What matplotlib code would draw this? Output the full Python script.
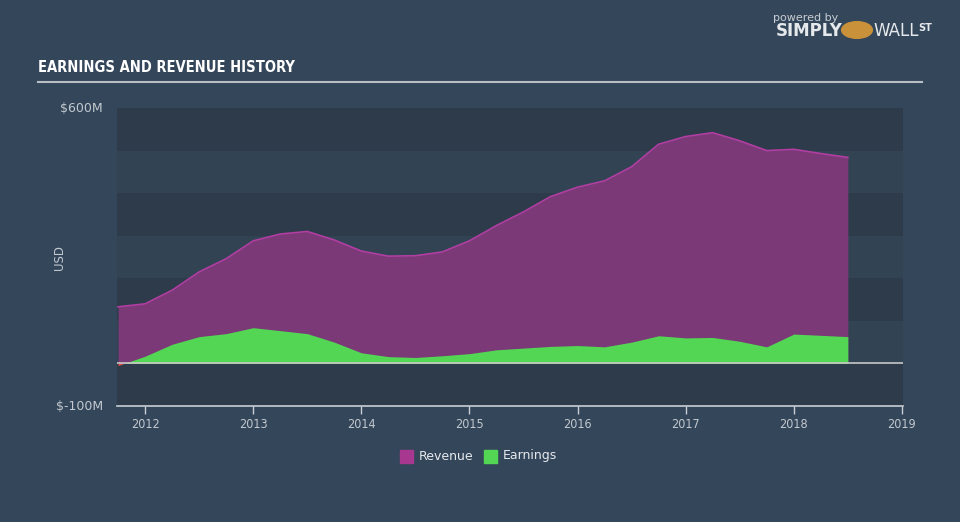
import numpy as np
import matplotlib
matplotlib.use("Agg")
import matplotlib.pyplot as plt
from matplotlib.patches import Rectangle

# Data (quarterly), values in $M
years = [2011.75, 2012.0, 2012.25, 2012.5, 2012.75, 2013.0, 2013.25, 2013.5, 2013.75,
         2014.0, 2014.25, 2014.5, 2014.75, 2015.0, 2015.25, 2015.5, 2015.75,
         2016.0, 2016.25, 2016.5, 2016.75, 2017.0, 2017.25, 2017.5, 2017.75,
         2018.0, 2018.25, 2018.5]
revenue = [133, 140, 172, 215, 246, 288, 304, 310, 290,
           264, 252, 253, 262, 288, 324, 356, 392,
           414, 429, 462, 515, 533, 542, 523, 500,
           503, 493, 484]
earnings = [-5, 17, 45, 63, 70, 84, 77, 70, 50,
            25, 16, 14, 18, 23, 32, 36, 40,
            42, 39, 50, 65, 60, 61, 52, 39,
            69, 66, 63]
xticks = [2012, 2013, 2014, 2015, 2016, 2017, 2018, 2019]

years = np.array(years)
revenue = np.array(revenue)
earnings = np.array(earnings)

bg = '#34465a'
plot_bg = '#324354'
band = '#2d3b4a'
purple_fill = '#7b3977'
purple_line = '#b23ea3'
green = '#53d653'
grey_txt = '#c3c9cf'

fig = plt.figure(figsize=(9.6, 5.22), dpi=100)
fig.patch.set_facecolor(bg)
ax = fig.add_axes([117/960, 1-406/522, 786/960, 298/522])
ax.set_facecolor(plot_bg)

ax.set_xlim(2011.74, 2019.01)
ax.set_ylim(-100, 600)

# alternating horizontal bands
for lo in [-100, 100, 300, 500]:
    ax.axhspan(lo, lo + 100, color=band, zorder=0, lw=0)

ax.fill_between(years, 0, revenue, color=purple_fill, zorder=2, lw=0)
ax.plot(years, revenue, color=purple_line, lw=1.2, zorder=3)
ax.fill_between(years, 0, earnings, where=earnings >= 0, interpolate=True,
                color=green, zorder=4, lw=0)
ax.fill_between(years, 0, earnings, where=earnings < 0, interpolate=True,
                color='#e8523f', zorder=4, lw=0)
ax.axhline(0, color='#c8c8c8', lw=1.2, zorder=5)

for s in ['top', 'right', 'left']:
    ax.spines[s].set_visible(False)
ax.spines['bottom'].set_color('#c8ced4')
ax.spines['bottom'].set_linewidth(1.2)
ax.set_xticks(xticks)
ax.set_xticklabels([str(t) for t in xticks])
ax.tick_params(axis='x', colors='#c8ced4', labelcolor=grey_txt, length=6,
               width=1, labelsize=9, pad=3)
for lab in ax.get_xticklabels():
    lab.set_fontstretch('condensed')
ax.set_yticks([])

fig.text(103/960, 1-108/522, '$600M', color=grey_txt, fontsize=9,
         ha='right', va='center')
fig.text(103/960, 1-406/522, '$-100M', color=grey_txt, fontsize=9,
         ha='right', va='center')
fig.text(60/960, 1-258/522, 'USD', color=grey_txt, fontsize=8.5,
         ha='center', va='center', rotation=90)

# title and underline
fig.text(38/960, 1-68/522, 'EARNINGS AND REVENUE HISTORY', color='white',
         fontsize=10.5, fontweight='bold', fontstretch='condensed',
         family=['DejaVu Sans'], ha='left', va='center')
fig.add_artist(plt.Line2D([38/960, 922/960], [1-82/522, 1-82/522],
                          color='#b8bec4', lw=1.5))

# branding
fig.text(806/960, 1-18/522, 'powered by', color='#c8ced4', fontsize=8,
         ha='center', va='center')
fig.text(776/960, 1-31/522, 'SIMPLY', color='#e6e9ec', fontsize=12,
         fontweight='bold', ha='left', va='center')
fig.text(873/960, 1-31/522, 'WALL', color='#e6e9ec', fontsize=12,
         ha='left', va='center')
fig.text(918/960, 1-28/522, 'ST', color='#e6e9ec', fontsize=7,
         fontweight='bold', ha='left', va='center')
fig.patches.append(plt.Circle((857/960, 1-30/522), 0.016, transform=fig.transFigure,
                              color='#c8913a', figure=fig))

# legend
fig.add_artist(Rectangle((400/960, 1-463/522), 13/960, 13/522, color='#a8378f',
                         transform=fig.transFigure))
fig.text(419/960, 1-456/522, 'Revenue', color='#e6e9ec', fontsize=9,
         ha='left', va='center')
fig.add_artist(Rectangle((484/960, 1-463/522), 13/960, 13/522, color=green,
                         transform=fig.transFigure))
fig.text(503/960, 1-456/522, 'Earnings', color='#e6e9ec', fontsize=9,
         ha='left', va='center')

fig.savefig('out.png', dpi=100, facecolor=bg)
